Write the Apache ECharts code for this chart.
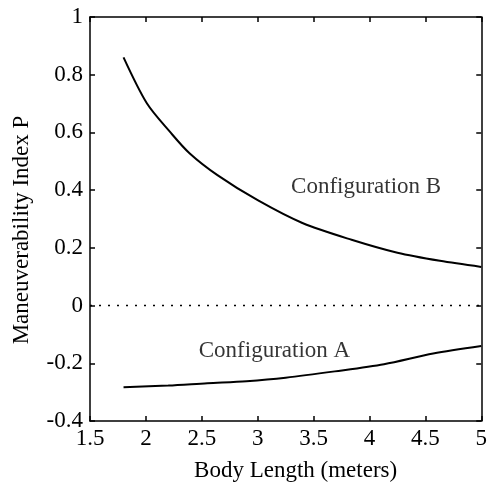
<!DOCTYPE html>
<html><head><meta charset="utf-8">
<script src="https://cdn.jsdelivr.net/npm/echarts@6/dist/echarts.min.js"></script>
<style>html,body{margin:0;padding:0;background:#fff;}#c{width:490px;height:487px;}</style>
</head><body><div id="c"></div>
<script>
var lengthB = [1.8, 2.01, 2.22, 2.39, 2.64, 3.0, 3.4, 3.84, 4.25, 4.63, 5.0];
var indexB  = [0.86, 0.70, 0.60, 0.528, 0.452, 0.365, 0.286, 0.228, 0.183, 0.155, 0.134];
var lengthA = [1.8, 2.2, 2.55, 2.9, 3.25, 3.69, 4.13, 4.57, 5.0];
var indexA  = [-0.283, -0.277, -0.269, -0.262, -0.25, -0.228, -0.203, -0.166, -0.14];
var zeroLine = [[1.5, 0], [5, 0]];
var labelNames = ['Configuration B', 'Configuration A'];
var labelPos = [[3.97, 0.41], [3.15, -0.158]];

var font = 'Liberation Serif';
function pairs(xs, ys){ return xs.map(function(x,i){ return [x, ys[i]]; }); }
var chart = echarts.init(document.getElementById('c'), null, {renderer:'canvas'});
var axisLine = {show:true, onZero:false, lineStyle:{color:'#000', width:1.5}};
var tick = {show:true, inside:true, length:5, lineStyle:{color:'#000', width:1.5}};
chart.setOption({
  animation:false,
  backgroundColor:'#fff',
  grid:{left:90, right:1, top:17, bottom:64, containLabel:false},
  xAxis:[{
    type:'value', min:1.5, max:5, interval:0.5,
    axisLine:axisLine, axisTick:tick, splitLine:{show:false},
    axisLabel:{color:'#000', fontFamily:font, fontSize:23, margin:6},
    name:'Body Length (meters)', nameLocation:'middle', nameGap:38,
    nameTextStyle:{color:'#000', fontFamily:font, fontSize:23, padding:[0,0,0,20]}
  },{
    type:'value', position:'top', min:1.5, max:5, interval:0.5,
    axisLine:axisLine, axisTick:tick, axisLabel:{show:false}, splitLine:{show:false}
  }],
  yAxis:[{
    type:'value', min:-0.4, max:1, interval:0.2,
    axisLine:axisLine, axisTick:tick, splitLine:{show:false},
    axisLabel:{color:'#000', fontFamily:font, fontSize:23, margin:7,
      formatter:function(v){ return String(Math.round(v*10)/10); }},
    name:'Maneuverability Index P', nameLocation:'middle', nameGap:57,
    nameTextStyle:{color:'#000', fontFamily:font, fontSize:23, padding:[0,22,0,0]}
  },{
    type:'value', position:'right', min:-0.4, max:1, interval:0.2,
    axisLine:axisLine, axisTick:tick, axisLabel:{show:false}, splitLine:{show:false}
  }],
  series:[
    {type:'line', data:pairs(lengthB, indexB), smooth:0.3, symbol:'none',
     lineStyle:{color:'#000', width:2}},
    {type:'line', data:pairs(lengthA, indexA), smooth:0.3, symbol:'none',
     lineStyle:{color:'#000', width:2}},
    {type:'line', data:zeroLine, symbol:'none',
     lineStyle:{color:'#000', width:1.5, type:[2,7]}},
    {type:'scatter', symbolSize:0, silent:true,
     data:labelPos.map(function(p,i){ return {value:p, name:labelNames[i]}; }),
     label:{show:true, position:'inside', formatter:'{b}', color:'#000', fontFamily:font, fontSize:23}}
  ]
});
</script></body></html>
